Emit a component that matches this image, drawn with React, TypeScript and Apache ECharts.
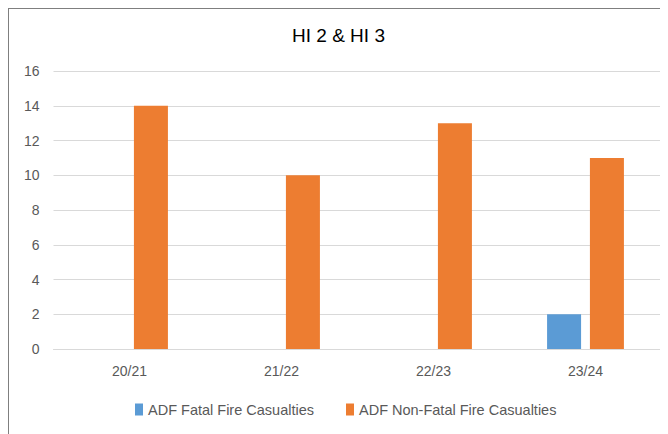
import React, { useEffect, useRef } from "react";
import * as echarts from "echarts";

const categories = ["20/21", "21/22", "22/23", "23/24"];
const fatal = [0, 0, 0, 2];
const nonFatal = [14, 10, 13, 11];
const seriesNames = ["ADF Fatal Fire Casualties", "ADF Non-Fatal Fire Casualties"];
const titleText = "HI 2 & HI 3";

export default function App() {
  const ref = useRef<HTMLDivElement>(null);
  useEffect(() => {
    if (!ref.current) return;
    const chart = echarts.init(ref.current, null, { renderer: "svg" });
    const font = "'Liberation Sans Narrow', 'Liberation Sans', Arial, sans-serif";
    chart.setOption({
      animation: false,
      backgroundColor: "#ffffff",
      title: {
        text: titleText,
        left: "center",
        top: 12,
        textStyle: { fontSize: 19, fontWeight: "normal", color: "#000000", fontFamily: font },
      },
      legend: {
        bottom: 12,
        left: 121,
        itemWidth: 8,
        itemHeight: 12,
        itemGap: 32,
        icon: "rect",
        textStyle: { fontSize: 14.5, color: "#595959", fontFamily: font },
        data: seriesNames,
      },
      grid: { left: 44.5, right: 6.5, top: 62, bottom: 85, containLabel: false },
      xAxis: {
        type: "category",
        data: categories,
        axisLine: { show: true, lineStyle: { color: "#d9d9d9", width: 1 } },
        axisTick: { show: false },
        axisLabel: { color: "#595959", fontSize: 14, margin: 15, fontFamily: font },
      },
      yAxis: {
        type: "value",
        min: 0,
        max: 16,
        interval: 2,
        axisLine: { show: false },
        axisTick: { show: false },
        axisLabel: { color: "#595959", fontSize: 14, margin: 14, fontFamily: font },
        splitLine: { lineStyle: { color: "#d9d9d9", width: 1 } },
      },
      series: [
        {
          name: seriesNames[0],
          type: "bar",
          data: fatal,
          barWidth: 34,
          barGap: "26%",
          itemStyle: { color: "#5b9bd5" },
        },
        {
          name: seriesNames[1],
          type: "bar",
          data: nonFatal,
          barWidth: 34,
          barGap: "26%",
          itemStyle: { color: "#ed7d31" },
        },
      ],
    });
    return () => chart.dispose();
  }, []);
  return (
    <div
      style={{
        width: 660,
        height: 426,
        borderTop: "1px solid #7f7f7f",
        borderLeft: "1px solid #7f7f7f",
        boxSizing: "border-box",
      }}
    >
      <div ref={ref} style={{ width: 659, height: 425 }} />
    </div>
  );
}
